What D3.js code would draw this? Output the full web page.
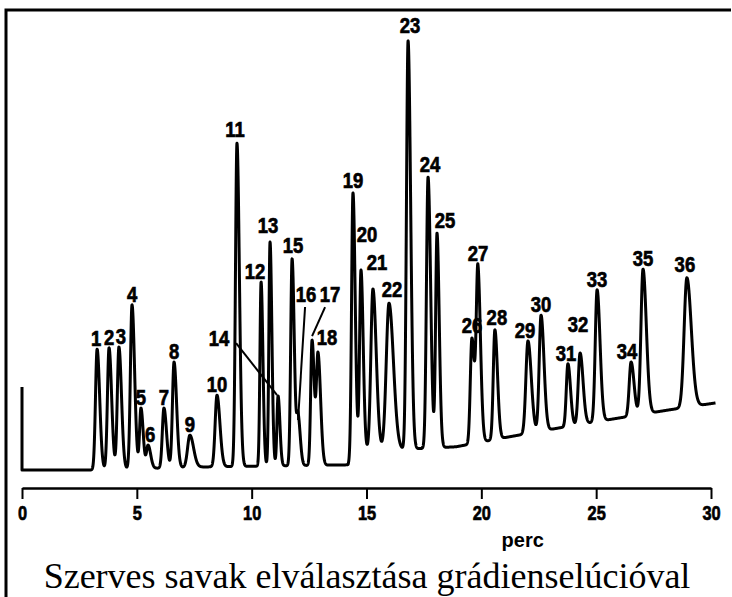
<!DOCTYPE html>
<html lang="hu">
<head>
<meta charset="UTF-8">
<title>Szerves savak elválasztása grádienselúcióval</title>
<script src="https://d3js.org/d3.v7.min.js"></script>
<style>
  body { margin: 0; padding: 0; background: #fff; }
  svg { display: block; }
  .trace { fill: none; stroke: #000; stroke-width: 3px; stroke-linejoin: round; }
  .frame { fill: none; stroke: #000; stroke-width: 3px; }
  .plabel { font-family: "Liberation Sans", Arial, sans-serif; font-weight: bold; font-size: 22px; stroke: #000; stroke-width: 0.7px; }
  .axis path, .axis line { stroke: #000; }
  .axis path { stroke-width: 2.5px; }
  .axis line { stroke-width: 2px; }
  .axis text { font-family: "Liberation Sans", Arial, sans-serif; font-weight: bold; font-size: 21px; fill: #000; stroke: #000; stroke-width: 0.7px; }
  .xtitle { font-family: "Liberation Sans", Arial, sans-serif; font-weight: bold; font-size: 20px; }
  .title { font-family: "Liberation Serif", "Times New Roman", serif; font-size: 36px; }
</style>
</head>
<body>
<svg width="732" height="597"></svg>
<script>
// peaks: retention time (perc), apex signal, width (perc)
const peakNo = [1, 2, 3, 4, 5, 6, 7, 8, 9, 10, 11, 12, 13, 14, 15, 16, 17, 18,
                19, 20, 21, 22, 23, 24, 25, 26, 27, 28, 29, 30, 31, 32, 33, 34, 35, 36];
const peakTime = [3.27, 3.79, 4.22, 4.79, 5.18, 5.49, 6.18, 6.62, 7.31, 8.49, 9.36, 10.41,
                  10.80, 11.15, 11.76, 12.02, 12.63, 12.89, 14.41, 14.76, 15.28, 15.98, 16.81, 17.68,
                  18.07, 19.59, 19.85, 20.59, 22.03, 22.60, 23.77, 24.30, 25.04, 26.52, 27.04, 28.95];
const peakApex = [28.1, 28.4, 28.6, 38.4, 14.4, 5.8, 14.4, 25.1, 8.1, 17.4, 76.0, 43.7,
                  53.0, 17.2, 49.1, 13.5, 30.2, 27.4, 64.4, 46.5, 42.1, 38.8, 99.8, 68.1,
                  55.1, 30.7, 47.9, 32.6, 30.0, 36.0, 24.7, 27.2, 41.9, 25.1, 46.7, 44.7];
const peakWidth = [0.07, 0.07, 0.07, 0.07, 0.06, 0.07, 0.07, 0.07, 0.10, 0.08, 0.065, 0.05,
                   0.05, 0.05, 0.06, 0.06, 0.06, 0.07, 0.06, 0.06, 0.09, 0.12, 0.07, 0.07,
                   0.06, 0.07, 0.07, 0.07, 0.09, 0.08, 0.07, 0.08, 0.08, 0.08, 0.09, 0.12];

// drifting baseline of the gradient run
const baseTime = [0, 3.0, 7.8, 14.2, 14.45, 18.9, 21.2, 23.4, 26.0, 28.2, 30.2];
const baseSignal = [0, 0, 0.7, 1.2, 4.2, 5.4, 7.7, 9.8, 12.1, 14.0, 15.6];
const injectMark = 19.3;

const xTicks = [0, 5, 10, 15, 20, 25, 30];
const xTitle = "perc";
const chartTitle = "Szerves savak elválasztása grádienselúcióval";

// label nudges (px) where the printed number is not straight above its peak
const labelShift = {
  1: [-1, 0], 3: [2, 0], 6: [2, 0], 11: [-2, -3], 12: [-6, 0], 13: [-2, -6], 14: [-59, -47],
  15: [1, -3], 16: [8, -107], 17: [18, -35], 18: [9, -4], 19: [0, -2], 20: [6, -25],
  21: [4, -16], 22: [3, -3], 23: [2, -5], 24: [2, -2], 25: [8, -2], 26: [0, -2], 28: [2, -2],
  29: [-3, 0], 31: [-2, 0], 32: [-2, -18], 34: [-4, 0], 36: [-2, -3]
};
// leader lines: [peak, from (rel. label), to (rel. apex)]
const leaders = [[14, 17, -3, -1, -1], [16, -1, 5, 0, 8], [17, -5, 5, 0, -4]];

const svg = d3.select("svg");
const x = d3.scaleLinear().domain([0, 30]).range([22, 711]);
const y = d3.scaleLinear().domain([0, 100]).range([470, 40]);
const base = d3.scaleLinear().domain(baseTime).range(baseSignal);
const tail = 1.6;

function shape(t, mu, w) {
  const s = t < mu ? w : w * tail;
  const z = (t - mu) / s;
  return Math.exp(-0.5 * z * z);
}

// amplitudes so that summed trace meets each read apex
const amp = peakApex.map((a, i) => a - base(peakTime[i]));
for (let it = 0; it < 30; it++) {
  peakTime.forEach((mu, i) => {
    let other = 0;
    peakTime.forEach((mj, j) => { if (j !== i) other += amp[j] * shape(mu, mj, peakWidth[j]); });
    amp[i] = peakApex[i] - base(mu) - other;
  });
}

const trace = [[0, injectMark]];
for (let t = 0; t <= 30.2; t += 0.004) {
  let v = base(t);
  peakTime.forEach((mu, i) => {
    if (Math.abs(t - mu) < 8 * peakWidth[i]) v += amp[i] * shape(t, mu, peakWidth[i]);
  });
  trace.push([t, v]);
}

// frame
svg.append("path").attr("class", "frame").attr("d", "M6,597V10H731");

svg.append("path")
  .datum(trace)
  .attr("class", "trace")
  .attr("d", d3.line().x(d => x(d[0])).y(d => y(d[1])));

// peak numbers
const lab = peakNo.map((n, i) => {
  const s = labelShift[n] || [0, 0];
  return { n, x: x(peakTime[i]) + s[0], y: y(peakApex[i]) - 3 + s[1], i };
});
svg.append("g").selectAll("text")
  .data(lab)
  .join("text")
  .attr("class", "plabel")
  .attr("text-anchor", "middle")
  .attr("transform", d => `translate(${d.x},${d.y}) scale(0.84,1)`)
  .text(d => d.n);

svg.append("g").selectAll("line")
  .data(leaders)
  .join("line")
  .attr("stroke", "#000")
  .attr("stroke-width", 2)
  .attr("x1", d => lab[d[0] - 1].x + d[1])
  .attr("y1", d => lab[d[0] - 1].y + d[2])
  .attr("x2", d => x(peakTime[d[0] - 1]) + d[3])
  .attr("y2", d => y(peakApex[d[0] - 1]) + d[4]);

// time axis
const ax = svg.append("g")
  .attr("class", "axis")
  .attr("transform", "translate(0,488)")
  .call(d3.axisBottom(x).tickValues(xTicks).tickSize(11).tickSizeOuter(0).tickPadding(6));
ax.selectAll("text").attr("transform", "scale(0.78,1)");

svg.append("text")
  .attr("class", "xtitle")
  .attr("x", x(21.8))
  .attr("y", 547)
  .attr("text-anchor", "middle")
  .text(xTitle);

svg.append("text")
  .attr("class", "title")
  .attr("x", 367)
  .attr("y", 588)
  .attr("text-anchor", "middle")
  .text(chartTitle);
</script>
</body>
</html>
